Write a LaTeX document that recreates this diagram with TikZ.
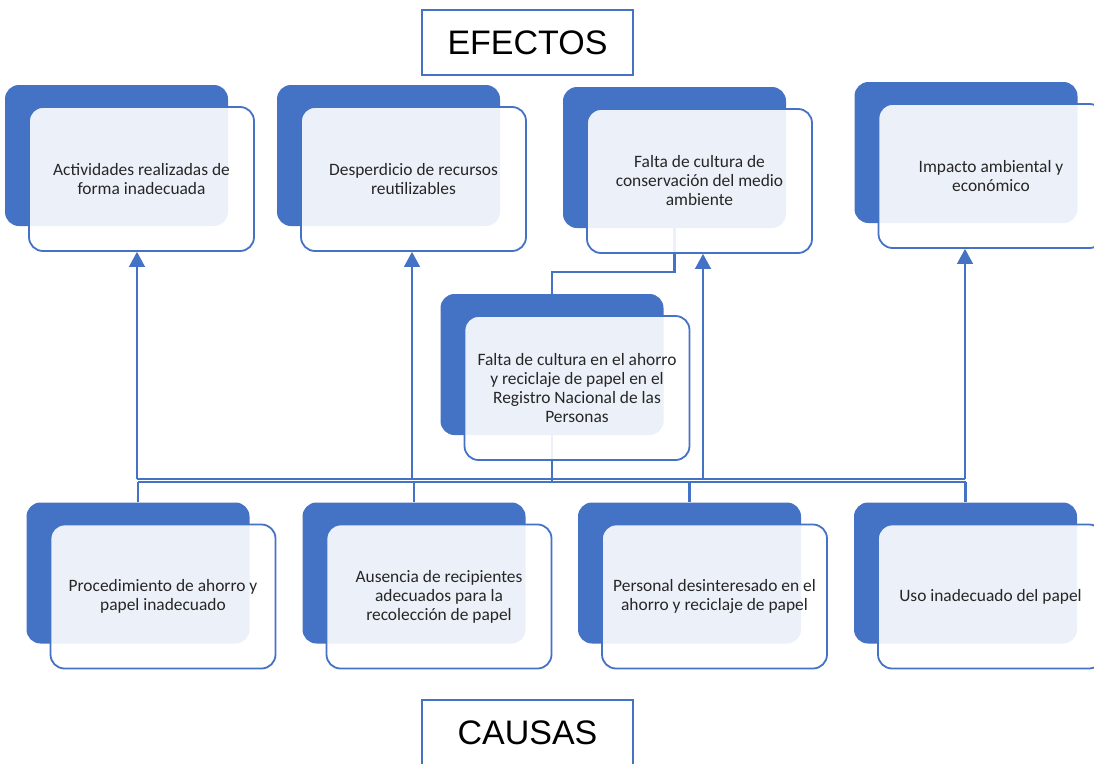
\documentclass[tikz,border=0pt]{standalone}
\usepackage{fontspec}
\setmainfont{Carlito}
\newfontfamily\headfont{Liberation Sans}
\usetikzlibrary{positioning,arrows.meta,calc,backgrounds}
\definecolor{CardBlue}{RGB}{68,114,196}
\definecolor{CardText}{RGB}{38,38,38}
\tikzset{
  back/.style={fill=CardBlue,rounded corners=14pt,minimum width=223pt,minimum height=141pt,inner sep=0pt},
  front/.style={draw=CardBlue,line width=1.8pt,fill=white,fill opacity=0.9,text opacity=1,rounded corners=14pt,
    minimum width=225pt,minimum height=144pt,inner sep=0pt,align=center,text=CardText,font=\fontsize{17.4}{19}\selectfont},
  title/.style={draw=CardBlue,line width=1.8pt,fill=white,minimum width=211pt,minimum height=65pt,
    font=\headfont\fontsize{34}{40}\selectfont},
  uparrow/.style={CardBlue,line width=1.1pt,-{Triangle[width=16pt,length=15pt]}},
  rail/.style={CardBlue,line width=1.1pt},
  link/.style={CardBlue,line width=2.4pt},
}
\begin{document}
\begin{tikzpicture}[x=1pt,y=-1pt]
\useasboundingbox (0,0) rectangle (1094,763);
\node[title] (efectos) at (527.5,42.5) {EFECTOS};
\node[title] (causas) at (527.5,732.5) {CAUSAS};
% efectos
\node[back] (e1b) at (116.5,155.5) {};
\node[front] (e1) at ($(e1b)+(25,23.5)$) {Actividades realizadas de\\forma inadecuada};
\node[back] (e2b) at (388.5,155.5) {};
\node[front] (e2) at ($(e2b)+(25,23.5)$) {Desperdicio de recursos\\reutilizables};
\node[back] (e3b) at (674.5,157.5) {};
\node[front] (e3) at ($(e3b)+(25,23.5)$) {Falta de cultura de\\conservación del medio\\ambiente};
\node[back] (e4b) at (966,152.5) {};
\node[front] (e4) at ($(e4b)+(25,23.5)$) {Impacto ambiental y\\económico};
% problema central
\node[back] (mb) at (552,364.5) {};
\node[front] (m) at ($(mb)+(25,23.5)$) {Falta de cultura en el ahorro\\y reciclaje de papel en el\\Registro Nacional de las\\Personas};
% causas
\node[back] (c1b) at (138,573) {};
\node[front] (c1) at ($(c1b)+(25,23.5)$) {Procedimiento de ahorro y\\papel inadecuado};
\node[back] (c2b) at (414,573) {};
\node[front] (c2) at ($(c2b)+(25,23.5)$) {Ausencia de recipientes\\adecuados para la\\recolección de papel};
\node[back] (c3b) at (689.5,573) {};
\node[front] (c3) at ($(c3b)+(25,23.5)$) {Personal desinteresado en el\\ahorro y reciclaje de papel};
\node[back] (c4b) at (965.5,573) {};
\node[front] (c4) at ($(c4b)+(25,23.5)$) {Uso inadecuado del papel};
\begin{scope}[on background layer]
\coordinate (bus) at (0,482);
\coordinate (r1) at (137,479);
\coordinate (r2) at (412,479);
\coordinate (r3) at (703,479);
\coordinate (r4) at (965,479);
\draw[rail] (r1) -- (r4);
\foreach \r/\e in {r1/e1,r2/e2,r3/e3,r4/e4}
  \draw[uparrow] (\r) -- (\r |- \e.south);
\draw[link] (c1b.north |- bus) -- (c4b.north |- bus);
\foreach \c in {c1b,c2b,c3b,c4b}
  \draw[link] (\c.north) -- (\c.north |- bus);
\draw[link] (mb.south) -- (mb.south |- bus);
\draw[link] (e3b.south) -- ++(0,44) -| (mb.north);
\end{scope}
\end{tikzpicture}
\end{document}
